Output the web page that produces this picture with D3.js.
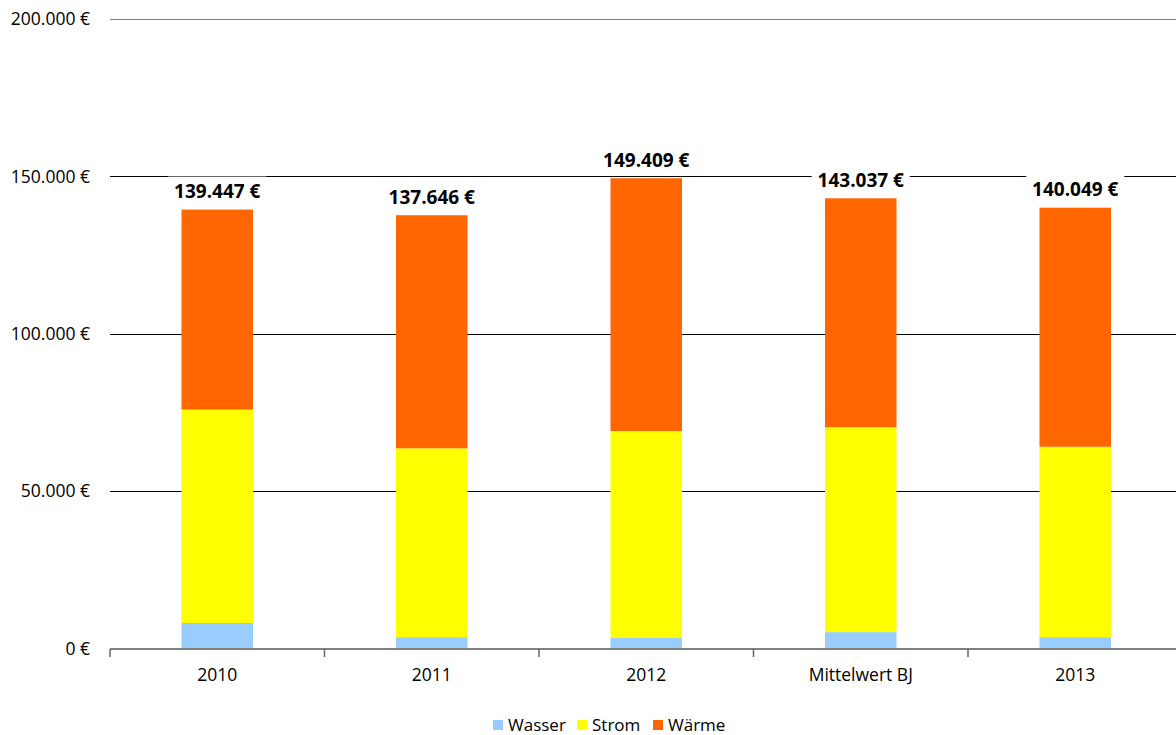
<!DOCTYPE html>
<html>
<head>
<meta charset="utf-8">
<script src="https://cdn.jsdelivr.net/npm/d3@7"></script>
<style>
  html, body { margin: 0; padding: 0; background: #fff; }
  svg { display: block; font-family: "Open Sans", "Noto Sans", sans-serif; }
</style>
</head>
<body>
<svg id="chart" width="1176" height="735"></svg>
<script>
// Energy costs per year, split by medium (EUR)
const categories = ["2010", "2011", "2012", "Mittelwert BJ", "2013"];
const seriesNames = ["Wasser", "Strom", "Wärme"];
const wasser = [8100, 3600, 3500, 5200, 3600];
const strom  = [67800, 60000, 65600, 65100, 60500];
const waerme = [63547, 74046, 80309, 72737, 75949];
const yTicks = [0, 50000, 100000, 150000, 200000];
const colors = ["#99ccff", "#ffff00", "#ff6600"];

const rows = categories.map((c, i) => ({
  cat: c, "Wasser": wasser[i], "Strom": strom[i], "Wärme": waerme[i]
}));

const de = d3.formatLocale({
  decimal: ",", thousands: ".", grouping: [3], currency: ["", "\u00a0€"]
});
const fmt = de.format("$,.0f");

const svg = d3.select("#chart");
const left = 110, step = 214.5;
const x = d3.scaleBand()
  .domain(categories)
  .range([left, left + step * categories.length])
  .paddingInner(2 / 3)
  .paddingOuter(1 / 3);
const y = d3.scaleLinear().domain([0, 200000]).range([648.5, 19]);

// horizontal gridlines
svg.append("g")
  .selectAll("line")
  .data(yTicks.filter(d => d > 0))
  .join("line")
  .attr("x1", left).attr("x2", 1176)
  .attr("y1", d => Math.round(y(d)) + 0.5)
  .attr("y2", d => Math.round(y(d)) + 0.5)
  .attr("stroke", d => d === 200000 ? "#808080" : "#000")
  .attr("stroke-width", 1.2);

// y axis labels
svg.append("g")
  .selectAll("text")
  .data(yTicks)
  .join("text")
  .attr("x", 90)
  .attr("y", d => y(d))
  .attr("dy", "0.35em")
  .attr("text-anchor", "end")
  .attr("font-size", 17.5)
  .attr("fill", "#000")
  .text(d => fmt(d));

// stacked bars
const stacked = d3.stack().keys(seriesNames)(rows);
svg.append("g")
  .selectAll("g")
  .data(stacked)
  .join("g")
  .attr("fill", (d, i) => colors[i])
  .selectAll("rect")
  .data(d => d)
  .join("rect")
  .attr("x", d => x(d.data.cat))
  .attr("width", x.bandwidth())
  .attr("y", d => y(d[1]))
  .attr("height", d => y(d[0]) - y(d[1]));

// x axis line and category ticks at band boundaries
const axisY = 649;
svg.append("line")
  .attr("x1", left).attr("x2", 1176)
  .attr("y1", axisY).attr("y2", axisY)
  .attr("stroke", "#808080").attr("stroke-width", 2);
svg.append("g")
  .selectAll("line")
  .data(d3.range(categories.length + 1))
  .join("line")
  .attr("x1", i => left + i * step)
  .attr("x2", i => left + i * step)
  .attr("y1", axisY).attr("y2", axisY + 8)
  .attr("stroke", "#666").attr("stroke-width", 1.5);

// category labels
const xAxis = d3.axisBottom(x).tickSize(0).tickPadding(0);
const gx = svg.append("g").attr("transform", `translate(0,${axisY})`).call(xAxis);
gx.select(".domain").remove();
gx.selectAll("text")
  .attr("font-family", "'Open Sans', 'Noto Sans', sans-serif")
  .attr("font-size", 17.5)
  .attr("fill", "#000")
  .attr("y", 26)
  .attr("dy", "0.35em");

// total labels with white backing that interrupts the gridlines
const totals = rows.map(r => seriesNames.reduce((s, k) => s + r[k], 0));
const lbl = svg.append("g")
  .selectAll("g")
  .data(rows.map((r, i) => ({ cat: r.cat, total: totals[i] })))
  .join("g")
  .attr("transform", d => `translate(${x(d.cat) + x.bandwidth() / 2},${y(d.total) - 18})`);
lbl.append("rect")
  .attr("x", -49).attr("y", -15)
  .attr("width", 98).attr("height", 30)
  .attr("fill", "#fff");
lbl.append("text")
  .attr("text-anchor", "middle")
  .attr("dy", "0.35em")
  .attr("font-size", 19)
  .attr("font-weight", "bold")
  .attr("fill", "#000")
  .text(d => fmt(d.total));

// legend
const legendX = [493, 577, 653];
const leg = svg.append("g")
  .selectAll("g")
  .data(seriesNames)
  .join("g")
  .attr("transform", (d, i) => `translate(${legendX[i]},725)`);
leg.append("rect")
  .attr("x", 0).attr("y", -5)
  .attr("width", 10).attr("height", 10)
  .attr("fill", (d, i) => colors[i]);
leg.append("text")
  .attr("x", 15)
  .attr("dy", "0.35em")
  .attr("font-size", 17)
  .attr("fill", "#000")
  .text(d => d);
</script>
</body>
</html>
